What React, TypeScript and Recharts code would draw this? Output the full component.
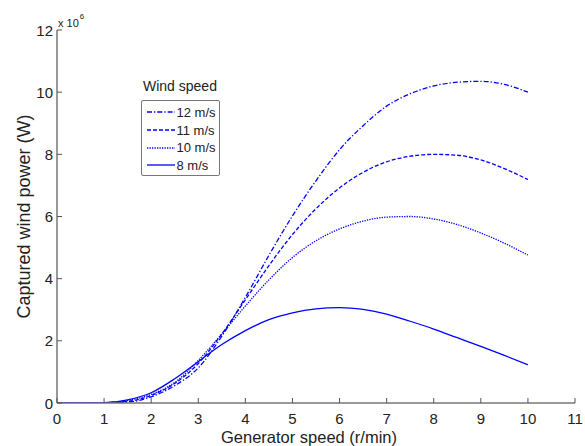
import { LineChart, Line, XAxis, YAxis, Legend } from "recharts";

// generator speed (r/min)
const rpm = [0, 0.5, 1, 1.5, 2, 2.5, 3, 3.5, 4, 4.5, 5, 5.5, 6, 6.5, 7, 7.5, 8, 8.5, 9, 9.5, 10];

// captured wind power (x 10^6 W) per wind speed
const power12 = [0, 0, 0.01, 0.03, 0.2, 0.56, 1.13, 2.15, 3.4, 4.75, 6.02, 7.15, 8.15, 8.92, 9.55, 9.95, 10.2, 10.32, 10.35, 10.25, 10.0];
const power11 = [0, 0, 0.01, 0.05, 0.24, 0.63, 1.27, 2.22, 3.32, 4.42, 5.42, 6.25, 6.92, 7.42, 7.76, 7.94, 8.0, 7.97, 7.82, 7.54, 7.19];
const power10 = [0, 0, 0.01, 0.08, 0.28, 0.66, 1.37, 2.22, 3.12, 3.96, 4.68, 5.22, 5.6, 5.85, 5.98, 6.0, 5.92, 5.74, 5.47, 5.14, 4.76];
const power8 = [0, 0, 0.01, 0.1, 0.33, 0.78, 1.33, 1.88, 2.33, 2.68, 2.9, 3.03, 3.07, 3.01, 2.86, 2.63, 2.38, 2.1, 1.82, 1.53, 1.23];

const xTicks = [0, 1, 2, 3, 4, 5, 6, 7, 8, 9, 10, 11];
const yTicks = [0, 2, 4, 6, 8, 10, 12];

const BLUE = "#0000ff";
const FONT = "'Liberation Sans', Arial, Helvetica, sans-serif";
const FRAME = "#777";

const series = [
  { key: "v12", name: "12 m/s", dash: "5 2 1.3 2" },
  { key: "v11", name: "11 m/s", dash: "4 2" },
  { key: "v10", name: "10 m/s", dash: "1.3 1.2" },
  { key: "v8", name: "8 m/s", dash: undefined },
];

const data = rpm.map((r, i) => ({
  rpm: r,
  v12: power12[i],
  v11: power11[i],
  v10: power10[i],
  v8: power8[i],
}));

const BottomTick = ({ x, y, payload }: any) => (
  <g>
    <line x1={x} y1={y} x2={x} y2={y - 5} stroke="#555" />
    <text x={x} y={y + 20.5} textAnchor="middle" fontSize={15} fill="#222" fontFamily={FONT}>
      {payload.value}
    </text>
  </g>
);

const TopTick = ({ x, y }: any) => <line x1={x} y1={y} x2={x} y2={y + 5} stroke="#555" />;

const RightTick = ({ x, y }: any) => <line x1={x} y1={y} x2={x - 5} y2={y} stroke="#555" />;

const LeftTick = ({ x, y, payload }: any) => (
  <g>
    <line x1={x} y1={y} x2={x + 5} y2={y} stroke="#555" />
    <text x={x - 4} y={y + 5.5} textAnchor="end" fontSize={15} fill="#222" fontFamily={FONT}>
      {payload.value}
    </text>
    {payload.value === 12 && (
      <text x={x + 1} y={y - 3} fontSize={11} fill="#222" fontFamily={FONT}>
        x 10
        <tspan dx={1} dy={-8} fontSize={8}>
          6
        </tspan>
      </text>
    )}
  </g>
);

const YTitle = ({ viewBox }: any) => (
  <text
    x={viewBox.x + 30}
    y={viewBox.y + viewBox.height / 2}
    transform={`rotate(-90, ${viewBox.x + 30}, ${viewBox.y + viewBox.height / 2})`}
    textAnchor="middle"
    fontSize={18}
    fill="#222"
    fontFamily={FONT}
  >
    Captured wind power (W)
  </text>
);

const XTitle = ({ viewBox }: any) => (
  <text
    x={viewBox.x + viewBox.width / 2 - 7}
    y={443}
    textAnchor="middle"
    fontSize={16.5}
    fill="#222"
    fontFamily={FONT}
  >
    Generator speed (r/min)
  </text>
);

const WindLegend = () => (
  <div style={{ fontFamily: FONT, color: "#222" }}>
    <div style={{ fontSize: 14, lineHeight: "16px", marginLeft: 2 }}>Wind speed</div>
    <div
      style={{
        marginTop: 6,
        border: `1.5px solid ${FRAME}`,
        borderRadius: 2,
        width: 72,
        padding: "2.5px 0 0.5px 4.5px",
      }}
    >
      {series.map((s) => (
        <div key={s.key} style={{ display: "flex", alignItems: "center", height: 17.7, fontSize: 13 }}>
          <svg width={28} height={4}>
            <line x1={0} y1={2} x2={28} y2={2} stroke={BLUE} strokeWidth={1.3} strokeDasharray={s.dash} />
          </svg>
          <span style={{ marginLeft: 2 }}>{s.name}</span>
        </div>
      ))}
    </div>
  </div>
);

export default function App() {
  return (
    <div style={{ position: "absolute", left: 0, top: 0, background: "#fff" }}>
      <LineChart width={585} height={446} data={data} margin={{ top: 30, right: 10, bottom: 0, left: 0 }}>
        <XAxis
          dataKey="rpm"
          type="number"
          domain={[0, 11]}
          ticks={xTicks}
          interval={0}
          height={43}
          tickSize={0}
          tickMargin={0}
          tickLine={false}
          tick={(p: any) => <BottomTick {...p} />}
          axisLine={{ stroke: FRAME, strokeWidth: 1.5 }}
          allowDataOverflow
          label={(p: any) => <XTitle {...p} />}
        />
        <XAxis
          xAxisId="top"
          orientation="top"
          type="number"
          domain={[0, 11]}
          ticks={xTicks}
          interval={0}
          height={0}
          tickSize={0}
          tickMargin={0}
          tickLine={false}
          tick={(p: any) => <TopTick {...p} />}
          axisLine={{ stroke: FRAME, strokeWidth: 1.5 }}
          allowDataOverflow
        />
        <YAxis
          type="number"
          domain={[0, 12]}
          ticks={yTicks}
          interval={0}
          width={57}
          tickSize={0}
          tickMargin={0}
          tickLine={false}
          tick={(p: any) => <LeftTick {...p} />}
          axisLine={{ stroke: FRAME, strokeWidth: 1.5 }}
          allowDataOverflow
          label={(p: any) => <YTitle {...p} />}
        />
        <YAxis
          yAxisId="right"
          orientation="right"
          type="number"
          domain={[0, 12]}
          ticks={yTicks}
          interval={0}
          width={0}
          tickSize={0}
          tickMargin={0}
          tickLine={false}
          tick={(p: any) => <RightTick {...p} />}
          axisLine={{ stroke: FRAME, strokeWidth: 1.5 }}
          allowDataOverflow
        />
        <Legend
          layout="vertical"
          align="center"
          verticalAlign="middle"
          content={() => <WindLegend />}
          wrapperStyle={{ left: 141, top: 78, width: "auto", height: "auto" }}
        />
        {series.map((s) => (
          <Line
            key={s.key}
            dataKey={s.key}
            name={s.name}
            type="monotone"
            stroke={BLUE}
            strokeWidth={1.3}
            strokeDasharray={s.dash}
            dot={false}
            activeDot={false}
            isAnimationActive={false}
          />
        ))}
      </LineChart>
    </div>
  );
}
